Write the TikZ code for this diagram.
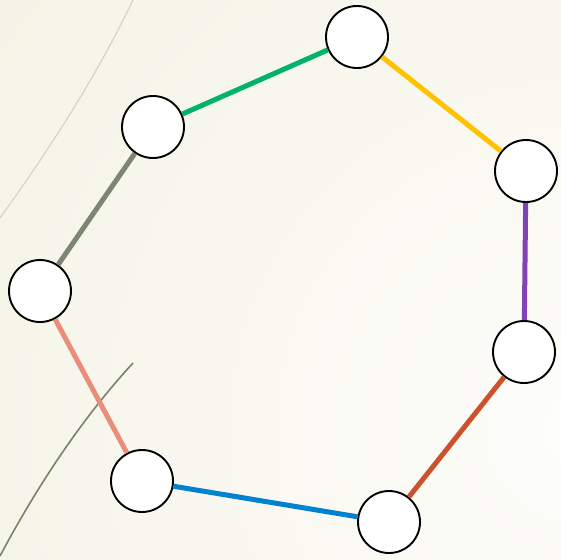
\documentclass[tikz,border=0pt]{standalone}
\definecolor{bgbeige}{RGB}{242,240,224}
\definecolor{bgwhite}{RGB}{253,253,250}
\definecolor{cgreen}{RGB}{0,178,106}
\definecolor{cyellow}{RGB}{255,194,0}
\definecolor{cpurple}{RGB}{128,66,180}
\definecolor{cbrown}{RGB}{204,82,46}
\definecolor{cblue}{RGB}{0,130,208}
\definecolor{csalmon}{RGB}{232,142,122}
\definecolor{colive}{RGB}{124,134,114}
\definecolor{arcgray}{RGB}{212,211,198}
\definecolor{arcolive}{RGB}{122,130,104}
\tikzset{
  vtx/.style={circle, draw=black, fill=white, line width=1.9pt, minimum size=62pt, inner sep=0pt},
  edge/.style={line width=5pt},
}
\begin{document}
\begin{tikzpicture}[x=1pt,y=-1pt]
\useasboundingbox (0,0) rectangle (561,559);
\begin{scope}
\clip (0,0) rectangle (561,559);
\shade[inner color=bgwhite, outer color=bgbeige] (580,430) circle (950);
\draw[arcgray, line width=1.2pt] (133,0) .. controls (101,67) and (57,139) .. (0,218);
\draw[arcolive, line width=1.6pt] (133,363) .. controls (86,414) and (41,479) .. (0,556);
\end{scope}
\node[vtx] (a) at (357,37) {};
\node[vtx] (b) at (153,127) {};
\node[vtx] (c) at (40,291) {};
\node[vtx] (d) at (142,481) {};
\node[vtx] (e) at (389,522) {};
\node[vtx] (f) at (524,352) {};
\node[vtx] (g) at (526,171) {};
\draw[edge, cgreen] (a) -- (b);
\draw[edge, cyellow] (a) -- (g);
\draw[edge, cpurple] (g) -- (f);
\draw[edge, cbrown] (f) -- (e);
\draw[edge, cblue] (e) -- (d);
\draw[edge, csalmon] (d) -- (c);
\draw[edge, colive] (c) -- (b);
\end{tikzpicture}
\end{document}
